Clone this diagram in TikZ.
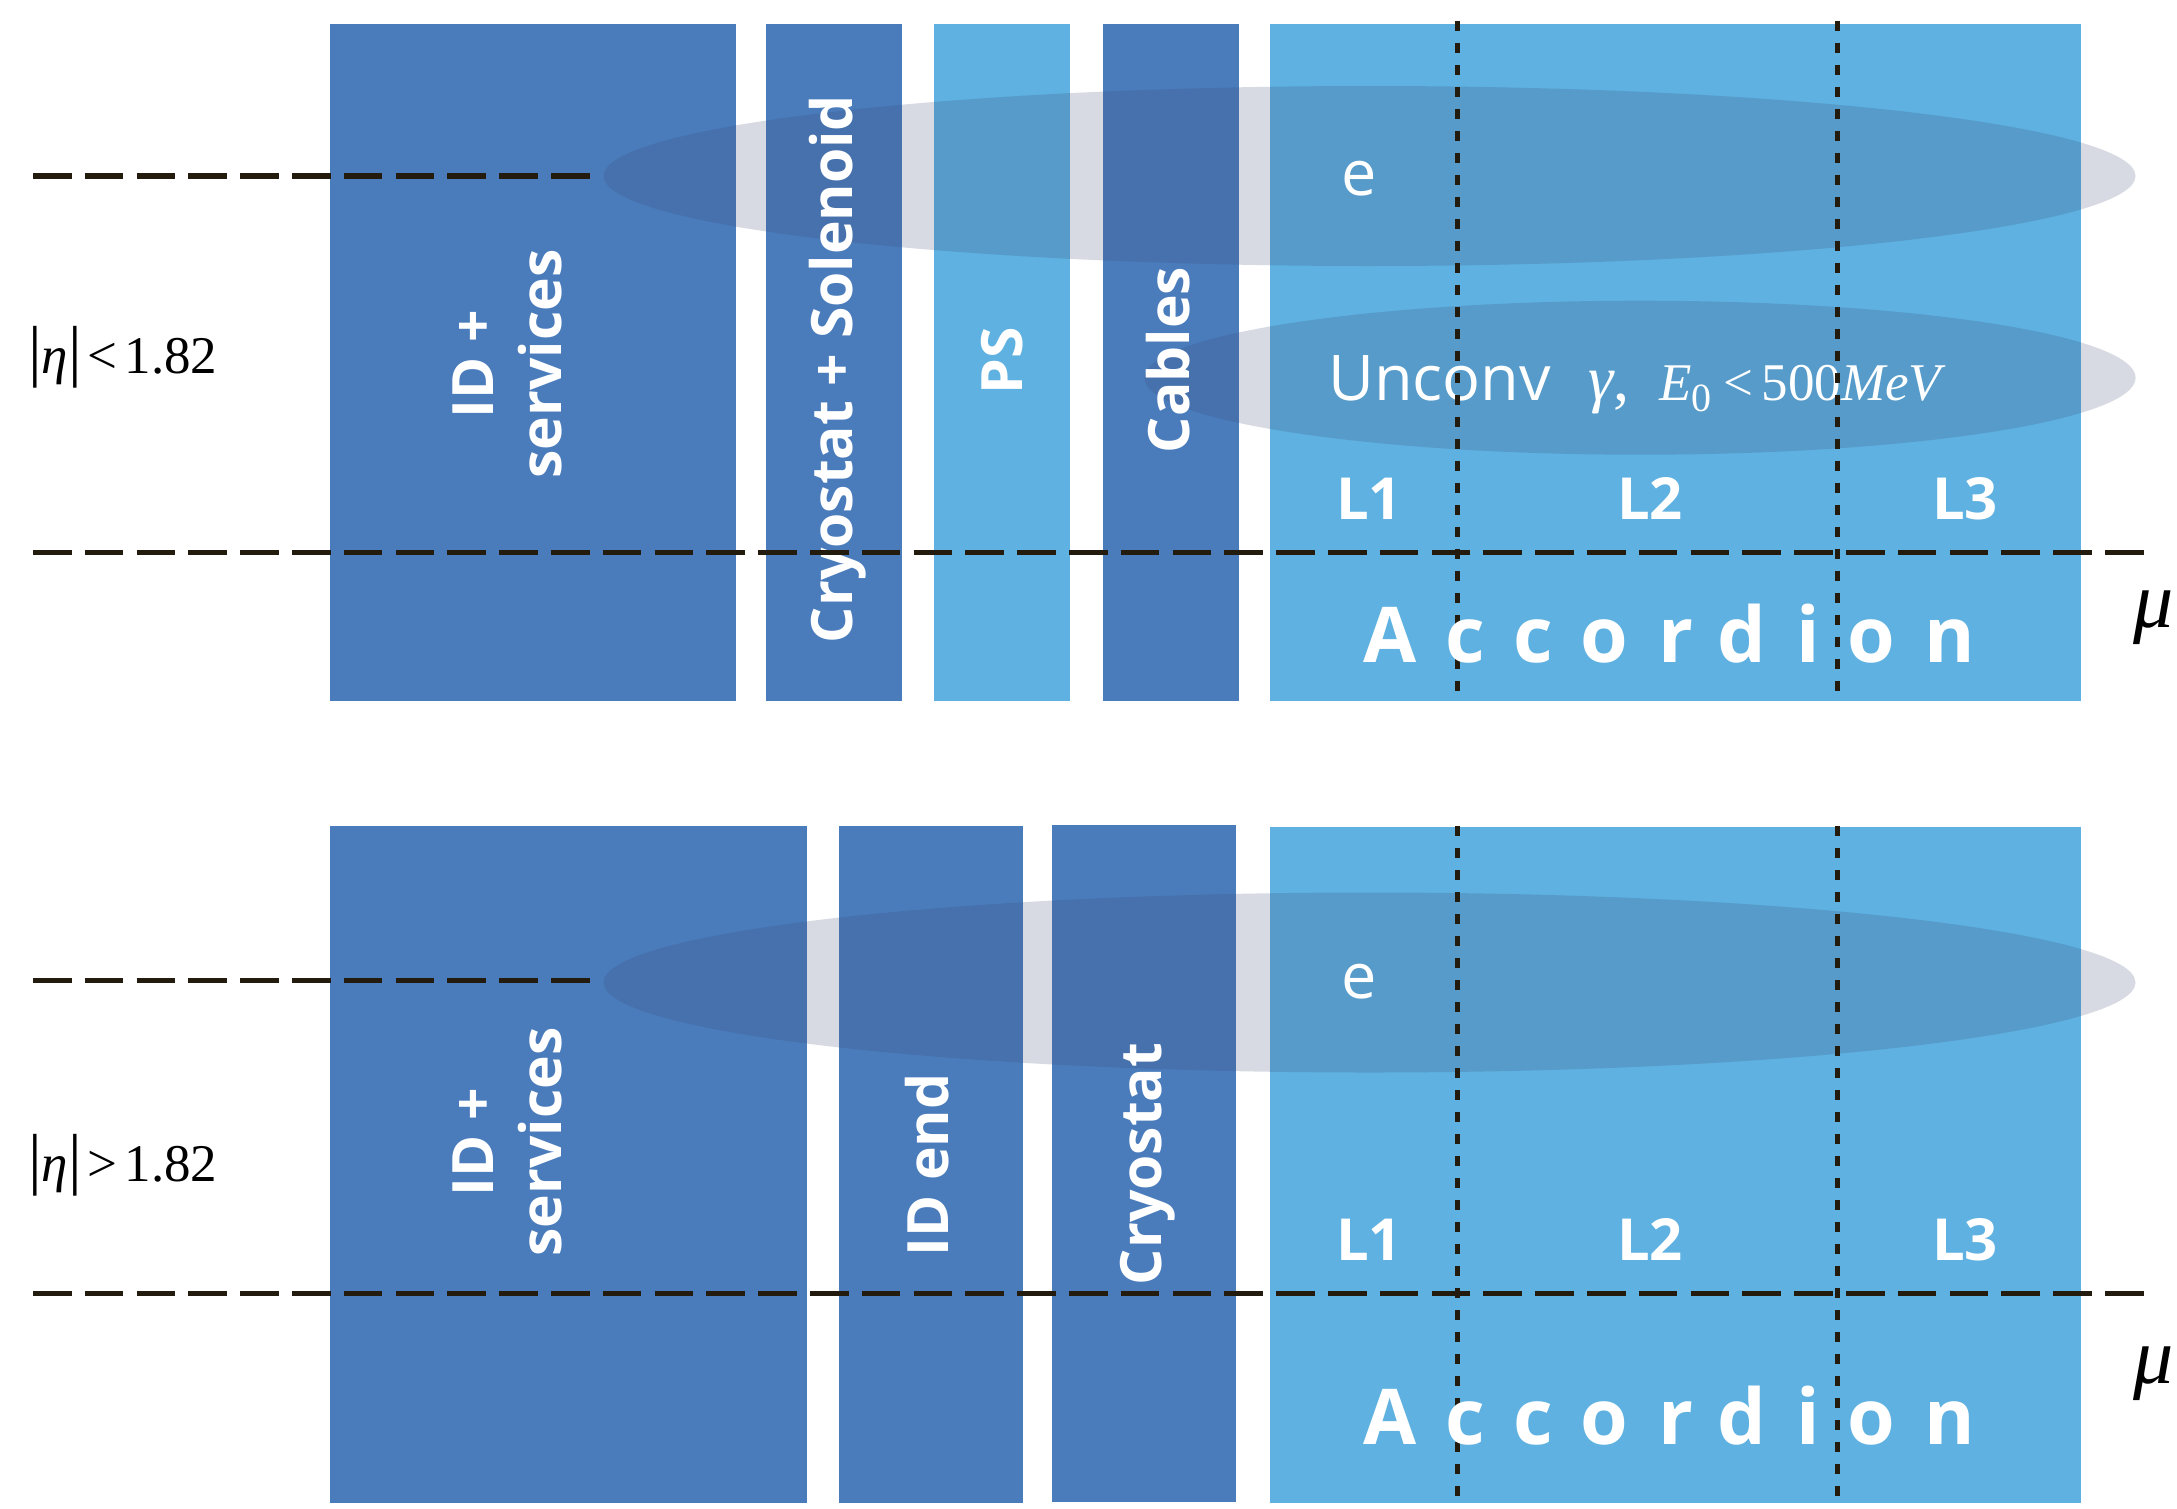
\documentclass[tikz,border=0pt]{standalone}
\usepackage{fontspec}
\newfontfamily\osans{Open Sans}
\newfontfamily\tms{Liberation Serif}
\definecolor{darkbox}{RGB}{74,124,188}
\definecolor{lightbox}{RGB}{94,177,224}
\definecolor{ellcol}{RGB}{55,70,110}
\definecolor{dashcol}{RGB}{35,28,14}
\newcommand{\tallbar}{{\fontsize{68}{68}\selectfont|}}
\begin{document}
\begin{tikzpicture}[x=1pt,y=-1pt,
  darkrect/.style={fill=darkbox},
  lightrect/.style={fill=lightbox},
  shower/.style={fill=ellcol, fill opacity=0.2},
  boxlabel/.style={text=white, font=\osans\bfseries\fontsize{57}{68}\selectfont, inner sep=0pt, rotate=90},
  layerlabel/.style={text=white, font=\osans\bfseries\fontsize{58}{58}\selectfont, inner sep=0pt, anchor=base},
  acc/.style={text=white, font=\osans\bfseries\fontsize{77}{77}\selectfont, inner sep=0pt, anchor=base},
  partlabel/.style={text=white, font=\osans\fontsize{63}{63}\selectfont, inner sep=0pt},
  mathlabel/.style={font=\tms\fontsize{53}{53}\selectfont, inner sep=0pt, anchor=base west},
  etaline/.style={draw=dashcol, line width=5.3pt, dash pattern=on 38.5pt off 13.3pt},
  layerline/.style={draw=dashcol, line width=5pt, dash pattern=on 10pt off 12pt},
]
\useasboundingbox (0,0) rectangle (2177,1508);
\fill[white] (0,0) rectangle (2177,1508);

% ---- top panel boxes
\fill[darkrect] (330,24) rectangle (736,701);
\fill[darkrect] (766,24) rectangle (902,701);
\fill[lightrect] (934,24) rectangle (1070,701);
\fill[darkrect] (1103,24) rectangle (1239,701);
\fill[lightrect] (1270,24) rectangle (2081,701);

% ---- bottom panel boxes
\fill[darkrect] (330,826) rectangle (807,1503);
\fill[darkrect] (839,826) rectangle (1023,1503);
\fill[darkrect] (1052,825) rectangle (1236,1502);
\fill[lightrect] (1270,827) rectangle (2081,1503);

% ---- shower ellipses
\fill[shower] (1369.5,176) ellipse [x radius=766pt, y radius=90pt];
\fill[shower] (1640,377.7) ellipse [x radius=495.6pt, y radius=77pt];
\fill[shower] (1369.5,982.5) ellipse [x radius=766pt, y radius=90pt];

% ---- box labels
\node[boxlabel, align=center] (idT) at (507,364) {ID +\\services};
\node[boxlabel, anchor=base] (cryoT) at (852,369) {Cryostat + Solenoid};
\node[boxlabel, anchor=base] (psT) at (1022,361) {PS};
\node[boxlabel, anchor=base] (cabT) at (1189,360) {Cables};
\node[boxlabel, align=center] (idB) at (507,1142) {ID +\\services};
\node[boxlabel, anchor=base] (idendB) at (948.5,1165) {ID end};
\node[boxlabel, anchor=base] (cryoB) at (1161,1164) {Cryostat};

% ---- particle labels
\node[partlabel, anchor=base] (eT) at (1359.5,195) {e};
\node[partlabel, anchor=base] (eB) at (1359.5,998) {e};
\node[partlabel, anchor=base west] (unc) at (1328,400) {Unconv};
\node[mathlabel, text=white, font=\tms\fontsize{53}{53}\selectfont] (ucmath) at (1588,400)
  {{\fontsize{64}{64}\selectfont\textit{γ},}\hspace{30pt}\textit{E}\raisebox{-11pt}{\fontsize{40}{40}\selectfont 0}\hspace{12pt}<\hspace{8pt}500\textit{MeV}};

% ---- layer labels
\node[layerlabel] (l1T) at (1369,519) {L1};
\node[layerlabel] (l2T) at (1650,519) {L2};
\node[layerlabel] (l3T) at (1965,519) {L3};
\node[layerlabel] (l1B) at (1369,1260.5) {L1};
\node[layerlabel] (l2B) at (1650,1260.5) {L2};
\node[layerlabel] (l3B) at (1965,1260.5) {L3};

% ---- layer boundaries
\draw[layerline] (1457,20.7) -- (1457,701);
\draw[layerline] (1837,20.7) -- (1837,701);
\draw[layerline] (1457,826) -- (1457,1503);
\draw[layerline] (1837,826) -- (1837,1503);

% ---- Accordion
\foreach \ch/\xx [count=\i] in {A/1390,c/1465,c/1533,o/1604,r/1676,d/1742,i/1808,o/1871,n/1950} {
  \node[acc] (accT\i) at (\xx,662.5) {\ch};
  \node[acc] (accB\i) at (\xx,1444) {\ch};
}

% ---- eta / mu lines
\draw[etaline] (33,176) -- (590,176);
\draw[etaline] (33,552.4) -- (2151,552.4);
\draw[etaline] (33,980.6) -- (590,980.6);
\draw[etaline] (33,1293.5) -- (2151,1293.5);

\node[mathlabel] (etaT) at (28,373) {\tallbar\textit{η}\tallbar\hspace{6pt}<\hspace{7pt}1.82};
\node[mathlabel] (etaB) at (28,1181) {\tallbar\textit{η}\tallbar\hspace{6pt}>\hspace{7pt}1.82};
\node[mathlabel, font=\tms\itshape\fontsize{80}{80}\selectfont] (muT) at (2133,627) {μ};
\node[mathlabel, font=\tms\itshape\fontsize{80}{80}\selectfont] (muB) at (2133,1383) {μ};
\end{tikzpicture}
\end{document}
